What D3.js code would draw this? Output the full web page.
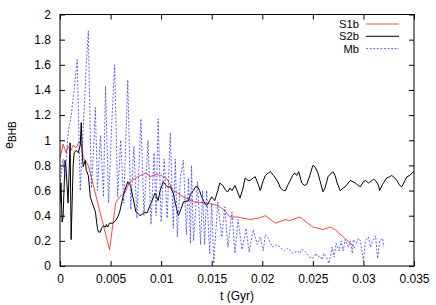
<!DOCTYPE html>
<html>
<head>
<meta charset="utf-8">
<script src="https://cdn.jsdelivr.net/npm/d3@7"></script>
<style>
  body { margin: 0; background: #fff; }
  svg { display: block; font-family: "Liberation Sans", Arial, sans-serif; }
</style>
</head>
<body>
<script>
// S1b, S2b and Mb: [t (Gyr), e_BHB]
const s1b = [[0,0.86],[0.0002,0.93],[0.0003,0.97],[0.0006,0.9],[0.0008,0.95],[0.0011,0.92],[0.0013,0.96],
  [0.0016,0.94],[0.0019,0.99],[0.0021,0.97],[0.0023,0.86],[0.0025,0.84],[0.0028,0.8],[0.0049,0.13],[0.0055,0.5],
  [0.0059,0.55],[0.0064,0.58],[0.0069,0.67],[0.0077,0.71],[0.0085,0.74],[0.0089,0.71],[0.0095,0.73],[0.01,0.72],
  [0.0106,0.69],[0.0112,0.6],[0.0122,0.55],[0.0132,0.51],[0.0145,0.5],[0.0156,0.48],[0.0163,0.44],[0.0168,0.39],
  [0.0175,0.39],[0.0188,0.37],[0.0196,0.38],[0.0203,0.4],[0.0213,0.34],[0.0223,0.37],[0.0227,0.36],[0.0237,0.39],
  [0.025,0.31],[0.026,0.29],[0.0267,0.31],[0.0272,0.29],[0.028,0.23],[0.0287,0.18],[0.0292,0.14]];

const s2b = [[0,0.5],[0.0001,0.66],[0.0002,0.35],[0.0003,0.38],[0.0005,0.84],[0.0006,0.78],[0.0008,0.5],[0.001,0.98],
  [0.0011,0.21],[0.0013,0.8],[0.0014,0.9],[0.0016,0.92],[0.0018,0.9],[0.002,0.96],[0.0021,1.14],[0.0022,0.9],
  [0.0023,0.79],[0.0025,0.84],[0.0026,0.76],[0.0028,0.72],[0.003,0.55],[0.0032,0.5],[0.0035,0.43],[0.0037,0.3],
  [0.0038,0.27],[0.004,0.27],[0.0041,0.3],[0.0043,0.32],[0.0045,0.31],[0.0046,0.33],[0.0047,0.31],[0.0049,0.34],
  [0.0052,0.34],[0.0055,0.36],[0.0057,0.39],[0.0059,0.43],[0.0062,0.54],[0.0064,0.6],[0.0067,0.67],[0.0069,0.65],
  [0.007,0.63],[0.0072,0.55],[0.0075,0.43],[0.0077,0.42],[0.0079,0.4],[0.0081,0.41],[0.0084,0.43],[0.0086,0.42],
  [0.0089,0.48],[0.0091,0.52],[0.0094,0.58],[0.0097,0.52],[0.0099,0.6],[0.0102,0.67],[0.0104,0.65],[0.0106,0.63],
  [0.0109,0.63],[0.0112,0.58],[0.0114,0.5],[0.0117,0.4],[0.012,0.46],[0.0122,0.51],[0.0127,0.52],[0.0129,0.57],
  [0.0132,0.6],[0.0134,0.63],[0.0136,0.63],[0.0138,0.6],[0.014,0.55],[0.0143,0.5],[0.0145,0.48],[0.0148,0.52],
  [0.015,0.55],[0.0153,0.52],[0.0156,0.6],[0.0158,0.66],[0.0161,0.64],[0.0164,0.6],[0.0166,0.59],[0.0168,0.62],
  [0.017,0.6],[0.0173,0.64],[0.0176,0.58],[0.0178,0.54],[0.0181,0.62],[0.0183,0.7],[0.0186,0.68],[0.0188,0.68],
  [0.0191,0.7],[0.0193,0.71],[0.0196,0.65],[0.0198,0.6],[0.0201,0.68],[0.0203,0.72],[0.0206,0.74],[0.0208,0.75],
  [0.0211,0.72],[0.0213,0.7],[0.0216,0.66],[0.0218,0.62],[0.0221,0.6],[0.0223,0.6],[0.0225,0.64],[0.0227,0.67],
  [0.023,0.72],[0.0232,0.74],[0.0234,0.72],[0.0236,0.75],[0.0239,0.66],[0.0242,0.64],[0.0244,0.65],[0.0247,0.72],
  [0.025,0.8],[0.0252,0.79],[0.0255,0.74],[0.0257,0.68],[0.026,0.59],[0.0262,0.62],[0.0265,0.71],[0.0267,0.73],
  [0.027,0.75],[0.0272,0.72],[0.0274,0.66],[0.0277,0.6],[0.028,0.62],[0.0282,0.63],[0.0285,0.66],[0.0287,0.68],
  [0.029,0.67],[0.0292,0.66],[0.0295,0.64],[0.0297,0.63],[0.03,0.67],[0.0302,0.68],[0.0305,0.66],[0.0307,0.67],
  [0.031,0.69],[0.0312,0.68],[0.0315,0.64],[0.0316,0.6],[0.0319,0.65],[0.0323,0.7],[0.0326,0.71],[0.0328,0.72],
  [0.0331,0.7],[0.0333,0.68],[0.0336,0.64],[0.0338,0.63],[0.0341,0.68],[0.0343,0.71],[0.0346,0.72],[0.0348,0.74],
  [0.035,0.75]];

const mb = [[0,0.65],[0.0003,0.85],[0.0005,0.7],[0.0008,1.05],[0.0011,1.2],[0.0014,1.4],[0.0017,1.64],[0.002,0.6],
  [0.0023,1.1],[0.0026,1.6],[0.0028,1.87],[0.0031,0.62],[0.0033,0.9],[0.0035,1.26],[0.0037,0.6],[0.004,1.04],
  [0.0043,0.55],[0.0045,1.43],[0.0048,0.5],[0.0051,1.1],[0.0054,1.6],[0.0057,0.55],[0.006,1.0],[0.0063,0.5],
  [0.0067,1.48],[0.007,0.45],[0.0073,0.95],[0.0076,0.38],[0.008,1.17],[0.0083,0.4],[0.0087,1.0],[0.009,0.33],
  [0.0093,0.9],[0.0095,0.4],[0.0097,1.17],[0.01,0.35],[0.0103,0.85],[0.0106,0.38],[0.0109,1.06],[0.0112,0.3],
  [0.0114,0.85],[0.0116,0.23],[0.0119,0.7],[0.0122,0.84],[0.0125,0.25],[0.0127,0.7],[0.0129,0.18],[0.013,0.8],
  [0.0132,0.2],[0.0136,0.67],[0.0139,0.17],[0.0141,0.6],[0.0143,0.17],[0.0145,0.6],[0.0148,0.1],[0.015,0.5],
  [0.0152,0.02],[0.0156,0.51],[0.016,0.23],[0.0163,0.47],[0.0166,0.15],[0.017,0.43],[0.0173,0.1],[0.0176,0.37],
  [0.018,0.13],[0.0184,0.3],[0.0187,0.11],[0.0191,0.29],[0.0195,0.17],[0.0198,0.23],[0.0201,0.12],[0.0203,0.25],
  [0.0206,0.22],[0.021,0.15],[0.0214,0.17],[0.0218,0.15],[0.022,0.13],[0.0222,0.12],[0.0225,0.14],[0.0227,0.13],
  [0.023,0.1],[0.0232,0.11],[0.0235,0.12],[0.0237,0.1],[0.0239,0.13],[0.0242,0.12],[0.0244,0.1],[0.0247,0.07],
  [0.025,0.06],[0.0253,0.1],[0.0255,0.07],[0.0257,0.08],[0.0259,0.05],[0.0261,0.1],[0.0264,0.06],[0.0266,0.02],
  [0.0269,0.15],[0.0271,0.07],[0.0273,0.18],[0.0276,0.12],[0.0278,0.2],[0.028,0.12],[0.0282,0.21],[0.0285,0.15],
  [0.0287,0.2],[0.0289,0.1],[0.029,0.21],[0.0293,0.18],[0.0295,0.22],[0.0297,0.2],[0.03,0.04],[0.0302,0.2],
  [0.0305,0.23],[0.0307,0.15],[0.0309,0.2],[0.0312,0.24],[0.0314,0.06],[0.0316,0.2],[0.0319,0.22],[0.032,0.15]];

const xTicks = [0, 0.005, 0.01, 0.015, 0.02, 0.025, 0.03, 0.035];
const yTicks = [0, 0.2, 0.4, 0.6, 0.8, 1, 1.2, 1.4, 1.6, 1.8, 2];

const W = 436, H = 305;
const plotL = 60, plotR = 414, plotT = 14.5, plotB = 266;

const svg = d3.select('body').append('svg')
    .attr('width', W)
    .attr('height', H);

const x = d3.scaleLinear().domain([0, 0.035]).range([plotL, plotR]);
const y = d3.scaleLinear().domain([0, 2]).range([plotB, plotT]);

// axes with inward ticks (mirrored on top/right)
const fmt = d => String(+d.toFixed(3));

svg.append('g')
    .attr('transform', `translate(0,${plotB})`)
    .call(d3.axisBottom(x).tickValues(xTicks).tickFormat(fmt).tickSizeInner(-5).tickSizeOuter(0).tickPadding(8));
svg.append('g')
    .attr('transform', `translate(0,${plotT})`)
    .call(d3.axisTop(x).tickValues(xTicks).tickFormat('').tickSizeInner(-5).tickSizeOuter(0));
svg.append('g')
    .attr('transform', `translate(${plotL},0)`)
    .call(d3.axisLeft(y).tickValues(yTicks).tickFormat(fmt).tickSizeInner(-5).tickSizeOuter(0).tickPadding(9));
svg.append('g')
    .attr('transform', `translate(${plotR},0)`)
    .call(d3.axisRight(y).tickValues(yTicks).tickFormat('').tickSizeInner(-5).tickSizeOuter(0));

svg.selectAll('.domain').remove();
svg.selectAll('.tick text').attr('font-size', 12).attr('fill', '#000')
    .attr('font-family', '"Liberation Sans", Arial, sans-serif');
svg.selectAll('.tick line').attr('stroke', '#000');

// clip for curves
svg.append('clipPath').attr('id', 'plot')
    .append('rect').attr('x', plotL).attr('y', plotT).attr('width', plotR - plotL).attr('height', plotB - plotT);

const line = d3.line().x(d => x(d[0])).y(d => y(d[1]));

const series = [
    { name: 'S1b', data: s1b, color: '#ff3030', width: 0.9, dash: null },
    { name: 'S2b', data: s2b, color: '#000', width: 1, dash: null },
    { name: 'Mb', data: mb, color: '#3a3aff', width: 0.8, dash: '2,1.6' }
];

series.forEach(s => {
    svg.append('path')
        .attr('clip-path', 'url(#plot)')
        .attr('d', line(s.data))
        .attr('fill', 'none')
        .attr('stroke', s.color)
        .attr('stroke-width', s.width)
        .attr('stroke-dasharray', s.dash);
});

// border
svg.append('rect')
    .attr('x', plotL).attr('y', plotT)
    .attr('width', plotR - plotL).attr('height', plotB - plotT)
    .attr('fill', 'none').attr('stroke', '#000').attr('stroke-width', 1);

// legend
const legend = svg.append('g');
series.forEach((s, i) => {
    const ly = 24 + i * 12.3;
    legend.append('text')
        .attr('x', 359).attr('y', ly).attr('dy', '0.35em')
        .attr('text-anchor', 'end').attr('font-size', 11.2)
        .text(s.name);
    legend.append('line')
        .attr('x1', 366).attr('x2', 399).attr('y1', ly).attr('y2', ly)
        .attr('stroke', s.color).attr('stroke-width', s.width)
        .attr('stroke-dasharray', s.dash);
});

// axis labels
svg.append('text')
    .attr('x', (plotL + plotR) / 2).attr('y', 300)
    .attr('text-anchor', 'middle').attr('font-size', 12)
    .text('t (Gyr)');

const yl = svg.append('text')
    .attr('transform', 'translate(13,135) rotate(-90)')
    .attr('text-anchor', 'middle').attr('font-size', 12);
yl.append('tspan').text('e');
yl.append('tspan').attr('dy', 3).attr('font-size', 10).text('BHB');
</script>
</body>
</html>
